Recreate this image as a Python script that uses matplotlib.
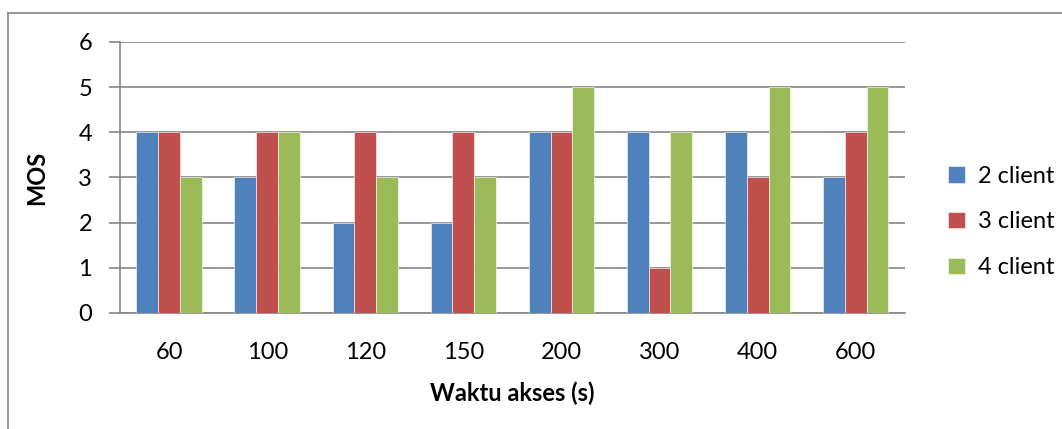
import numpy as np
import matplotlib.pyplot as plt
from matplotlib.lines import Line2D

plt.rcParams['font.family'] = ['Lato', 'DejaVu Sans']

# data
waktu = ['60', '100', '120', '150', '200', '300', '400', '600']
client2 = [4, 3, 2, 2, 4, 4, 4, 3]
client3 = [4, 4, 4, 4, 4, 1, 3, 4]
client4 = [3, 4, 3, 3, 5, 4, 5, 5]
series = ['2 client', '3 client', '4 client']
warna = ['#4F81BD', '#C0504D', '#9BBB59']

fs = 17

fig = plt.figure(figsize=(10.62, 4.29), dpi=100, facecolor='white')
ax = fig.add_axes([0.113, 0.2704, 0.739, 0.632])

x = np.arange(len(waktu))
w = 0.222
for i, (vals, nama, c) in enumerate(zip([client2, client3, client4], series, warna)):
    ax.bar(x + (i - 1) * w, vals, width=w, color=c, label=nama,
           edgecolor='white', linewidth=0.4, zorder=3)

ax.set_xlim(-0.5, len(waktu) - 0.5)
ax.set_ylim(0, 6)
ax.set_yticks(range(0, 7))
ax.set_xticks(x)
ax.set_xticklabels(waktu)
ax.grid(axis='y', color='#868686', linewidth=1.2, zorder=0)
for s in ['top', 'right']:
    ax.spines[s].set_visible(False)
for s in ['left', 'bottom']:
    ax.spines[s].set_color('#868686')
    ax.spines[s].set_linewidth(1.2)
ax.tick_params(axis='y', length=8, width=1.2, color='#868686', labelsize=fs, pad=12)
ax.tick_params(axis='x', length=0, labelsize=fs, pad=21)

ax.set_xlabel('Waktu akses (s)', fontsize=fs, fontweight='bold', labelpad=13)
ax.set_ylabel('MOS', fontsize=fs, fontweight='bold', labelpad=22)

ax.legend(loc='center left', bbox_to_anchor=(1.055, 0.336), frameon=False,
          fontsize=fs, handlelength=0.7, handleheight=0.7,
          labelspacing=1.05, handletextpad=0.55, borderpad=0, borderaxespad=0)

# outer chart frame
fig.add_artist(Line2D([0.008, 0.008], [0, 0.969], color='#868686', linewidth=1.2,
                      transform=fig.transFigure))
fig.add_artist(Line2D([0.008, 1.0], [0.969, 0.969], color='#868686', linewidth=1.2,
                      transform=fig.transFigure))

fig.savefig('out.png', dpi=100, facecolor='white')
